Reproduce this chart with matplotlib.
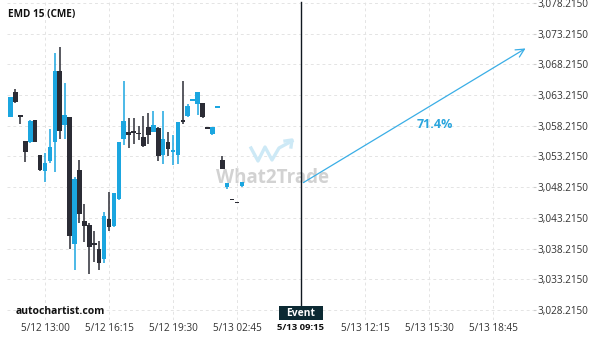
import matplotlib
matplotlib.use("Agg")
import matplotlib.pyplot as plt
from matplotlib.transforms import blended_transform_factory
from matplotlib.patches import Rectangle
import numpy as np

plt.rcParams['font.family'] = ['Open Sans', 'DejaVu Sans']

# ---- data ----
title = "EMD 15 (CME)"
idx = list(range(-7, 41))
opens = [3059.70, 3063.72, 3059.90, 3055.74, 3055.63, 3059.16, 3053.46, 3050.90, 3052.53, 3055.63,
         3067.14, 3058.35, 3059.65, 3039.01, 3051.02, 3042.71, 3042.06, 3039.13, 3038.10, 3036.52,
         3043.04, 3041.94, 3046.29, 3056.11, 3057.21, 3057.37, 3057.00, 3056.39, 3058.02, 3057.25,
         3057.91, 3053.46, 3055.53, 3054.15, 3053.41, 3059.05, 3059.86, 3062.40, 3061.81, 3061.93,
         3057.85, 3056.93, 3061.20, 3052.64, 3048.20, 3046.25, 3045.76, 3048.41]
closes = [3062.95, 3062.09, 3059.80, 3053.99, 3059.05, 3055.63, 3051.02, 3052.15, 3054.76, 3067.14,
          3057.42, 3059.97, 3040.27, 3049.60, 3043.90, 3041.94, 3038.52, 3038.85, 3035.92, 3043.52,
          3041.68, 3047.22, 3055.58, 3058.99, 3056.72, 3057.09, 3056.90, 3054.97, 3056.72, 3058.35,
          3053.30, 3056.07, 3054.44, 3054.20, 3058.83, 3058.95, 3061.44, 3062.45, 3063.72, 3059.65,
          3057.80, 3058.02, 3061.25, 3051.18, 3048.90, 3046.20, 3045.70, 3049.01]
highs = [3062.95, 3064.16, 3059.90, 3055.74, 3059.10, 3059.16, 3053.50, 3053.74, 3057.65, 3070.02,
         3070.99, 3065.14, 3059.70, 3049.93, 3052.64, 3045.43, 3042.43, 3041.13, 3039.45, 3044.22,
         3047.48, 3047.22, 3055.60, 3065.51, 3059.53, 3059.44, 3058.18, 3059.81, 3060.25, 3060.62,
         3058.07, 3060.62, 3057.16, 3056.72, 3058.90, 3065.51, 3061.72, 3062.45, 3063.72, 3062.00,
         3057.85, 3058.02, 3061.25, 3053.30, 3048.90, 3046.25, 3045.76, 3049.01]
lows = [3059.60, 3061.98, 3058.46, 3052.27, 3055.40, 3055.60, 3050.85, 3049.01, 3052.10, 3050.64,
        3056.07, 3056.11, 3038.10, 3034.73, 3042.43, 3039.34, 3034.08, 3035.98, 3034.73, 3035.82,
        3041.03, 3041.73, 3046.13, 3055.09, 3054.65, 3055.20, 3055.90, 3054.81, 3055.30, 3057.20,
        3052.53, 3051.94, 3053.30, 3051.83, 3051.94, 3058.46, 3059.70, 3062.40, 3059.97, 3059.55,
        3057.80, 3056.72, 3061.20, 3051.10, 3048.00, 3046.20, 3045.70, 3048.30]

tick_pos = [0, 13, 26, 39, 52, 65, 78, 91]
tick_labels = ["5/12 13:00", "5/12 16:15", "5/12 19:30", "5/13 02:45",
               "5/13 09:15", "5/13 12:15", "5/13 15:30", "5/13 18:45"]
y_ticks = [3028.215 + 5 * i for i in range(11)]

event_x = 52
arrow_start = (52, 3048.73)
arrow_end = (98.1, 3071.05)
prob_label = "71.4%"

# ---- styling ----
BLUE = '#1ba6e0'
DARK = '#2b2c35'

fig = plt.figure(figsize=(6, 3.4), dpi=100)
ax = fig.add_axes([7 / 600, 20 / 340, 526 / 600, 320 / 340])
ax.set_xlim(-7.72, 99.13)
ax.set_ylim(3026.59, 3078.70)

for s in ax.spines.values():
    s.set_visible(False)

ax.set_yticks(y_ticks)
ax.set_yticklabels([f"{v:,.4f}" for v in y_ticks])
ax.yaxis.tick_right()
ax.tick_params(axis='y', length=2, color='#cccccc', labelsize=7.2, labelcolor='#333333', pad=1)
ax.set_xticks(tick_pos)
ax.set_xticklabels(tick_labels)
ax.tick_params(axis='x', length=0, labelsize=7.2, labelcolor='#333333', pad=2)
for lab in ax.get_xticklabels():
    if lab.get_text() == "5/13 09:15":
        lab.set_fontweight('bold')
        lab.set_color('#111111')
        lab.set_fontsize(6.8)

ax.grid(True, color='#e4e4e4', linestyle=(0, (3, 3)), linewidth=0.7)
ax.set_axisbelow(True)

# watermark
ax.text(0.505, 0.445, "What2Trade", transform=ax.transAxes, ha='center', va='center',
        fontsize=13.5, fontweight='bold', color='#d2d2d2', zorder=0.5)
wx = np.array([251, 258, 265, 272, 279, 292]) / 600
wy = 1 - np.array([148, 161, 147, 160, 148, 141]) / 340
fig.add_artist(plt.Line2D(wx, wy, color='#cde9f6', lw=2.4, zorder=0.5))
fig.add_artist(plt.Line2D([285 / 600, 292 / 600, 291 / 600], [1 - 141 / 340, 1 - 140 / 340, 1 - 147 / 340],
                          color='#cde9f6', lw=2.4, zorder=0.5))

# candles
for x, o, h, l, c in zip(idx, opens, highs, lows, closes):
    col = BLUE if c >= o else DARK
    ax.vlines(x, l, h, color=col, lw=1.1, zorder=2)
    bot = min(o, c)
    hgt = abs(c - o)
    if hgt < 0.3:
        bot = (o + c) / 2 - 0.15
        hgt = 0.3
    ax.bar(x, hgt, bottom=bot, width=0.95, color=col, linewidth=0, zorder=3)

# event line and label
ax.axvline(event_x, ymin=14 / 320, ymax=318 / 320, color='#101820', lw=1, zorder=4)
tr = blended_transform_factory(ax.transData, ax.transAxes)
box_w = 9.1
ax.add_patch(Rectangle((event_x - box_w / 2, 0), box_w, 14 / 320, transform=tr,
                       facecolor='#0c2a33', edgecolor='none', zorder=5, clip_on=False))
ax.text(event_x, 7 / 320, "Event", transform=tr, ha='center', va='center', color='white',
        fontsize=7.4, fontweight='bold', zorder=6)

# forecast arrow
ax.annotate("", xy=arrow_end, xytext=arrow_start,
            arrowprops=dict(arrowstyle='->,head_length=0.6,head_width=0.3', color='#3aaee6', lw=0.9),
            zorder=4)
ax.text(79.2, 3058.5, prob_label, ha='center', va='center', color='#2aa5dd',
        fontsize=9, fontweight='bold', zorder=5)

# texts
fig.text(8 / 600, 1 - 14 / 340, title, ha='left', va='center', fontsize=7.2, fontweight='bold',
         color='#111111')
ax.text(9 / 526, 9 / 320, "autochartist.com", transform=ax.transAxes, ha='left', va='center',
        fontsize=7.5, fontweight='bold', color='#111111')

fig.savefig("out.png", dpi=100)
